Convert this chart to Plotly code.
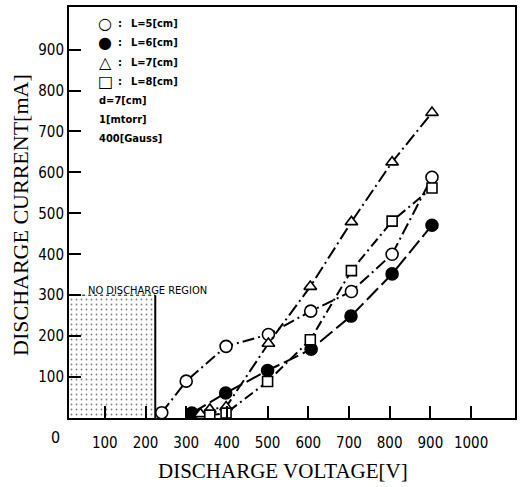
import plotly.graph_objects as go

# ---------------- data ----------------
V_L5 = [240, 300, 398, 502, 606, 706, 806, 904]
I_L5 = [13, 90, 175, 204, 261, 309, 400, 588]

V_L6 = [314, 397, 500, 607, 705, 806, 904]
I_L6 = [12, 61, 116, 168, 249, 352, 471]

V_L7 = [335, 358, 398, 502, 605, 706, 806, 904]
I_L7 = [10, 21, 27, 182, 321, 479, 625, 746]

V_L8 = [358, 398, 500, 605, 706, 806, 904]
I_L8 = [7, 12, 89, 191, 360, 481, 562]

NO_DISCHARGE_V = [0, 224]      # voltage span of the no-discharge region
NO_DISCHARGE_I = [0, 300]      # current span of the no-discharge region

X_TICKS = [100, 200, 300, 400, 500, 600, 700, 800, 900, 1000]
Y_TICKS = [100, 200, 300, 400, 500, 600, 700, 800, 900]

LEGEND_LABELS = ["L=5[cm]", "L=6[cm]", "L=7[cm]", "L=8[cm]"]
LEGEND_SYMBOLS = ["○", "●", "△", "□"]
CONDITIONS = ["d=7[cm]", "1[mtorr]", "400[Gauss]"]

# ---------------- layout geometry ----------------
W, H = 526, 487
L, R, T, B = 69, 11, 5, 69
PW, PH = W - L - R, H - T - B

def px(x):
    return (x - L) / PW

def py(y):
    return (H - B - y) / PH

SERIF = "Liberation Serif, Times New Roman, serif"
COND = "DejaVu Sans Condensed, Liberation Sans Narrow, sans-serif"

fig = go.Figure()

# no-discharge region (stippled)
x0, x1 = NO_DISCHARGE_V
y0, y1 = NO_DISCHARGE_I
fig.add_trace(go.Scatter(
    x=[x0, x1, x1, x0, x0], y=[y0, y0, y1, y1, y0],
    mode="lines", fill="toself", line=dict(width=0, color="black"),
    fillcolor="white",
    fillpattern=dict(shape=".", fgcolor="black", bgcolor="white", size=5, solidity=0.1),
    hoverinfo="skip", showlegend=False))
fig.add_trace(go.Scatter(
    x=[x1, x1], y=[y0, y1], mode="lines",
    line=dict(color="black", width=2), hoverinfo="skip", showlegend=False))
fig.add_trace(go.Scatter(
    x=[x0, x1], y=[y1, y1], mode="lines",
    line=dict(color="black", width=1, dash="dot"), hoverinfo="skip", showlegend=False))

series = [
    (V_L5, I_L5, "circle", "white", 12, "12px,4px,2px,4px", LEGEND_LABELS[0]),
    (V_L6, I_L6, "circle", "black", 12, "16px,5px", LEGEND_LABELS[1]),
    (V_L7, I_L7, "triangle-up", "white", 11, "13px,4px,2px,4px", LEGEND_LABELS[2]),
    (V_L8, I_L8, "square", "white", 10, "10px,4px,2px,4px", LEGEND_LABELS[3]),
]
for vx, iy, sym, fc, sz, dash, name in series:
    fig.add_trace(go.Scatter(
        x=vx, y=iy, mode="lines+markers", name=name,
        line=dict(color="black", width=2, dash=dash),
        marker=dict(symbol=sym, size=sz, color=fc, line=dict(color="black", width=1.6)),
        showlegend=False))

def note(x, y, text, font, xanchor="center", angle=0):
    return dict(x=px(x), y=py(y), xref="paper", yref="paper", text=text, showarrow=False,
                xanchor=xanchor, yanchor="middle", textangle=angle, font=font)

ann = []
leg_y = [22, 41, 61, 80]
for s, lab, yy in zip(LEGEND_SYMBOLS, LEGEND_LABELS, leg_y):
    ann.append(note(105, yy, s, dict(family="DejaVu Sans", size=16, color="black")))
    ann.append(note(120, yy, ":", dict(family=COND, size=11, color="black", weight="bold")))
    ann.append(note(129, yy, lab, dict(family=COND, size=11, color="black", weight="bold"), "left"))
for txt, yy in zip(CONDITIONS, [99, 118, 137]):
    ann.append(note(97, yy, txt, dict(family=COND, size=11, color="black", weight="bold"), "left"))

ann.append(note(86, 290, "NO DISCHARGE REGION", dict(family=COND, size=11, color="black"), "left"))
ann.append(note(55, 438, "0", dict(family=COND, size=16, color="black")))
ann.append(note(283, 471, "DISCHARGE VOLTAGE[V]", dict(family=SERIF, size=21, color="black")))
ann.append(note(21, 214, "DISCHARGE CURRENT[mA]", dict(family=SERIF, size=22, color="black"),
                angle=-90))

axis_common = dict(showline=True, mirror=True, linecolor="black", linewidth=2,
                   ticks="inside", ticklen=12, tickwidth=1.5, tickcolor="black",
                   showgrid=False, zeroline=False,
                   tickfont=dict(family=COND, size=15, color="black"))

fig.update_layout(
    width=W, height=H,
    margin=dict(l=L, r=R, t=T, b=B, pad=0),
    paper_bgcolor="white", plot_bgcolor="white",
    showlegend=False,
    xaxis=dict(range=[12, 1108], tickvals=X_TICKS, ticktext=[str(v) for v in X_TICKS],
               ticklabelstandoff=10, **axis_common),
    yaxis=dict(range=[0, 1004], tickvals=Y_TICKS, ticktext=[str(v) for v in Y_TICKS],
               ticklabelstandoff=0, **axis_common),
    annotations=ann,
)

fig.write_html("out.html")
